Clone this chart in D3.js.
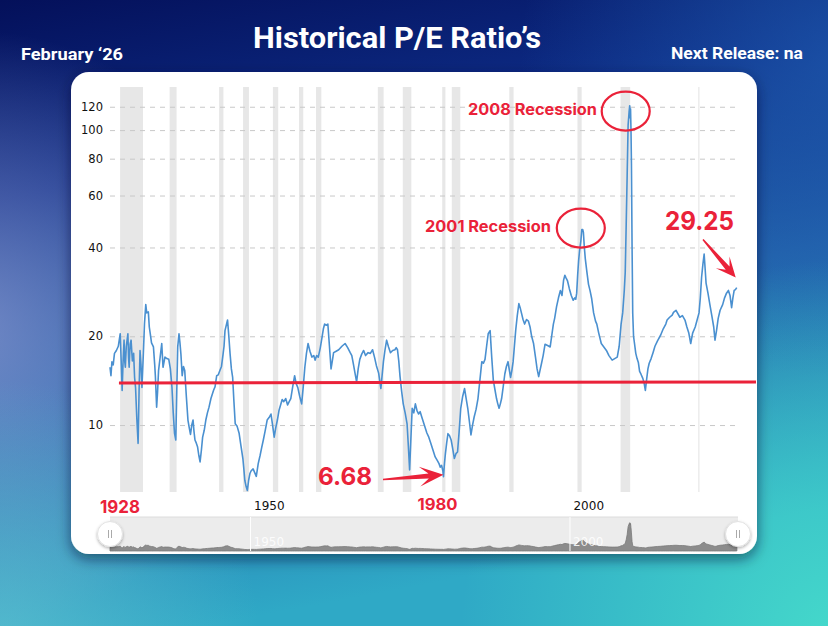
<!DOCTYPE html>
<html>
<head>
<meta charset="utf-8">
<script src="https://cdn.jsdelivr.net/npm/d3@7"></script>
<style>
  html, body { margin: 0; padding: 0; background: #0b1c6a; }
  svg { display: block; }
</style>
</head>
<body>
<svg id="chart"></svg>
<script>
// S&P 500 P/E ratio (year, ratio)
const peSeries = [
  [1928.0,15.7],[1928.15,14.7],[1928.3,16.4],[1928.5,16.0],[1928.7,17.5],[1929.0,17.9],[1929.3,18.5],[1929.6,20.4],
  [1929.75,16.5],[1929.9,13.1],[1930.05,16.5],[1930.2,19.4],[1930.3,16.5],[1930.4,15.7],[1930.55,18.5],[1930.8,20.4],
  [1930.9,17],[1931.0,15.7],[1931.15,18.8],[1931.3,19.4],[1931.5,16.5],[1931.7,17.5],[1931.85,14.5],[1932.0,13.4],
  [1932.2,10.5],[1932.4,8.67],[1932.55,13],[1932.7,17.9],[1932.85,16],[1933.0,13.4],[1933.2,17],[1933.4,22.1],
  [1933.6,25.6],[1933.75,24],[1934.0,24.2],[1934.15,21.5],[1934.3,20.4],[1934.5,19],[1934.8,18.4],[1935.0,16],
  [1935.1,14.7],[1935.3,11.5],[1935.45,13],[1935.6,15.3],[1935.85,17],[1936.1,18.9],[1936.3,15.7],[1936.6,17.0],
  [1936.9,16.8],[1937.2,16.7],[1937.45,15.5],[1937.7,13.4],[1937.9,11],[1938.1,9.37],[1938.3,8.9],[1938.45,13],
  [1938.6,18.4],[1938.8,20.4],[1938.95,19],[1939.1,17.4],[1939.3,14.7],[1939.5,15.8],[1939.7,15.3],[1939.95,12.5],
  [1940.2,10.4],[1940.4,9.8],[1940.6,9.3],[1940.8,10],[1941.0,10.4],[1941.15,9.5],[1941.3,8.9],[1941.5,8.7],
  [1941.7,8.45],[1941.9,7.9],[1942.1,7.5],[1942.3,8.2],[1942.5,9.1],[1942.75,9.6],[1943.0,10.4],[1943.25,11],
  [1943.5,11.5],[1943.8,12.3],[1944.2,13.1],[1944.45,13.5],[1944.7,14.7],[1944.95,14.8],[1945.2,15.3],[1945.45,15.8],
  [1945.7,17.4],[1945.85,18.5],[1946.0,20.9],[1946.25,22],[1946.4,22.7],[1946.6,20],[1946.8,17.4],[1947.0,15.5],
  [1947.2,14.5],[1947.4,12],[1947.6,10.1],[1947.9,9.9],[1948.2,9.4],[1948.5,8.5],[1948.8,7.7],[1948.95,7.1],
  [1949.1,6.5],[1949.3,6.2],[1949.5,6.0],[1949.7,6.5],[1949.9,6.85],[1950.1,7.0],[1950.4,7.1],[1950.65,6.9],
  [1950.9,6.7],[1951.2,7.4],[1951.5,7.9],[1951.75,8.4],[1952.0,8.9],[1952.3,9.6],[1952.6,10.4],[1952.9,10.6],
  [1953.2,10.9],[1953.45,10],[1953.7,9.1],[1953.95,9.8],[1954.2,10.4],[1954.45,11.2],[1954.7,11.7],[1954.95,12.2],
  [1955.2,12.0],[1955.5,12.3],[1955.8,11.7],[1956.05,12.0],[1956.3,12.3],[1956.6,13.5],[1956.9,14.7],[1957.15,13.8],
  [1957.4,13.4],[1957.7,12.5],[1958.0,11.8],[1958.25,13.5],[1958.5,15.7],[1958.75,17.5],[1959.0,18.9],[1959.3,17.8],
  [1959.6,17.0],[1959.9,17.2],[1960.1,16.6],[1960.35,17.2],[1960.6,17.0],[1960.9,18.2],[1961.2,19.9],[1961.4,21.2],
  [1961.6,22.0],[1961.85,21.8],[1962.1,22.0],[1962.35,18.5],[1962.6,15.5],[1962.8,16.5],[1963.0,17.6],[1963.4,17.8],
  [1963.8,18.0],[1964.3,18.5],[1964.8,18.9],[1965.2,18.3],[1965.6,17.6],[1965.85,17.2],[1966.1,16.1],[1966.35,15.0],
  [1966.6,14.0],[1966.85,15.5],[1967.1,16.7],[1967.4,17.4],[1967.7,17.9],[1968.0,17.2],[1968.4,17.6],[1968.75,17.5],
  [1969.1,18.0],[1969.4,17.0],[1969.7,15.9],[1970.05,15.0],[1970.4,13.3],[1970.6,14.8],[1970.8,16.4],[1971.05,18.0],
  [1971.3,19.4],[1971.6,18.4],[1971.9,17.6],[1972.25,17.9],[1972.6,18.0],[1972.8,18.3],[1973.0,18.0],[1973.2,16.5],
  [1973.4,14.6],[1973.65,13],[1973.9,11.8],[1974.2,11],[1974.5,10.1],[1974.7,8.5],[1974.9,7.05],[1975.1,9],
  [1975.3,11.4],[1975.55,11],[1975.8,11.8],[1976.05,11.2],[1976.3,10.9],[1976.55,11.1],[1976.8,10.65],[1977.2,10],
  [1977.6,9.4],[1977.9,9.1],[1978.2,8.7],[1978.5,8.3],[1978.9,7.8],[1979.2,7.6],[1979.5,7.4],[1979.7,7.2],
  [1979.9,7.3],[1980.1,7.0],[1980.2,6.68],[1980.35,7.4],[1980.5,8.0],[1980.7,8.7],[1980.9,9.35],[1981.15,9.2],
  [1981.4,8.9],[1981.65,8.3],[1981.9,7.7],[1982.15,8.0],[1982.4,8.1],[1982.65,9.5],[1982.9,11.4],[1983.2,12.5],
  [1983.5,13.3],[1983.75,12.3],[1984.0,11.4],[1984.25,10.3],[1984.5,9.26],[1984.75,10],[1985.0,10.65],[1985.3,11.3],
  [1985.6,12.3],[1985.9,14.2],[1986.2,16.4],[1986.45,16.2],[1986.7,16.7],[1986.95,18.5],[1987.2,20.4],[1987.5,20.9],
  [1987.75,17],[1988.0,14.2],[1988.25,13.2],[1988.5,12.3],[1988.7,11.8],[1988.9,11.4],[1989.1,11.8],[1989.3,12.3],
  [1989.55,13.5],[1989.8,14.9],[1990.05,15.8],[1990.3,16.4],[1990.5,15.4],[1990.7,14.5],[1990.9,15.3],[1991.1,16.4],
  [1991.3,18.5],[1991.5,20.9],[1991.75,23.5],[1992.0,25.8],[1992.2,25.0],[1992.4,24],[1992.65,22.8],[1992.9,22.0],
  [1993.2,22.8],[1993.5,22.5],[1993.75,21.5],[1994.0,20],[1994.3,18.9],[1994.6,17],[1994.85,15.5],[1995.1,14.6],
  [1995.3,15.3],[1995.55,16.2],[1995.8,17.2],[1996.1,18.8],[1996.5,18.6],[1996.9,18.4],[1997.2,20.5],[1997.4,22.0],
  [1997.6,23],[1997.9,25.2],[1998.2,27],[1998.5,28.6],[1998.75,27.5],[1999.0,31],[1999.2,32.2],[1999.4,31.5],
  [1999.6,30.9],[1999.9,29],[2000.2,27.5],[2000.5,26.5],[2000.75,27],[2000.9,26.7],[2001.05,28],[2001.2,32.2],
  [2001.35,36],[2001.5,39.0],[2001.7,42],[2001.85,46.0],[2002.0,46],[2002.1,45],[2002.25,40],[2002.4,36.6],
  [2002.65,33],[2002.9,30],[2003.15,28.5],[2003.4,26.8],[2003.7,24],[2004.0,22.5],[2004.2,22.0],[2004.5,20.5],
  [2004.9,18.9],[2005.3,18.4],[2005.7,17.9],[2006.1,17.2],[2006.6,16.6],[2007.0,16.8],[2007.4,17.0],[2007.7,18.5],
  [2008.0,22],[2008.25,24],[2008.5,28.6],[2008.65,33],[2008.8,47.9],[2008.95,70],[2009.1,104],[2009.25,115],
  [2009.35,121],[2009.42,110],[2009.48,118],[2009.55,100],[2009.62,77],[2009.72,40],[2009.82,24],[2009.95,20],
  [2010.1,18.9],[2010.3,17.5],[2010.5,16.8],[2010.7,16.3],[2010.9,15.2],[2011.1,14.9],[2011.4,14.4],[2011.6,13.9],
  [2011.8,13.1],[2012.0,14.3],[2012.2,15.5],[2012.4,16.2],[2012.7,16.8],[2013.0,17.6],[2013.3,18.5],[2013.7,19.3],
  [2014.2,20.2],[2014.6,21.2],[2015.0,22.0],[2015.2,22.7],[2015.6,23.2],[2016.0,23.6],[2016.2,24.1],[2016.6,24.5],
  [2017.2,23.2],[2017.6,23.5],[2018.0,22.7],[2018.3,21.5],[2018.6,20.5],[2018.9,18.9],[2019.2,20.5],[2019.6,21.5],
  [2019.9,22.7],[2020.2,24],[2020.4,27],[2020.6,31.7],[2020.8,35],[2021.0,38],[2021.15,34],[2021.3,30.3],
  [2021.6,28],[2021.9,25.6],[2022.2,23.5],[2022.5,21.5],[2022.7,19.4],[2022.95,21],[2023.2,23],[2023.5,24.5],
  [2023.9,25.6],[2024.2,27],[2024.5,28],[2024.8,28.6],[2025.05,27.5],[2025.3,25],[2025.5,27],[2025.7,28.6],
  [2025.9,28.8],[2026.1,29.25]
];

// NBER recessions (start, end) as decimal years
const recessions = [
  [1929.58,1933.17],[1937.33,1938.42],[1945.08,1945.75],[1948.83,1949.75],[1953.5,1954.33],
  [1957.58,1958.25],[1960.25,1961.08],[1969.92,1970.83],[1973.83,1975.17],[1980.0,1980.5],
  [1981.5,1982.83],[1990.5,1991.17],[2001.17,2001.83],[2007.92,2009.42],[2020.08,2020.25]
];

const yTicks = [10, 20, 40, 60, 80, 100, 120];
const xTicks = [1950, 2000];
const meanPE = 13.9;
const startYear = 1928, endYear = 2026.3;

const W = 828, H = 626;
const red = "#ea2239";

const svg = d3.select("#chart").attr("width", W).attr("height", H);
const defs = svg.append("defs");

// ---- background
const bg = defs.append("linearGradient").attr("id", "bgLin").attr("x1", 0).attr("y1", 0).attr("x2", 0.25).attr("y2", 1);
[["0%","#04105a"],["30%","#0d2c86"],["60%","#2364ac"],["100%","#2fa9c6"]].forEach(s =>
  bg.append("stop").attr("offset", s[0]).attr("stop-color", s[1]));

function radial(id, cx, cy, r, color, op) {
  const g = defs.append("radialGradient").attr("id", id)
    .attr("gradientUnits", "userSpaceOnUse").attr("cx", cx).attr("cy", cy).attr("r", r);
  g.append("stop").attr("offset", "0%").attr("stop-color", color).attr("stop-opacity", op);
  g.append("stop").attr("offset", "100%").attr("stop-color", color).attr("stop-opacity", 0);
}
radial("glowLeft", -30, 330, 300, "#8d9ad2", 0.75);
radial("glowBR", 840, 640, 380, "#46dccb", 0.95);
radial("glowBL", 0, 640, 260, "#62c4d2", 0.7);
radial("glowTR", 840, 60, 320, "#1f5cb0", 0.7);

svg.append("rect").attr("width", W).attr("height", H).attr("fill", "url(#bgLin)");
["glowTR", "glowLeft", "glowBL", "glowBR"].forEach(id =>
  svg.append("rect").attr("width", W).attr("height", H).attr("fill", `url(#${id})`));

// ---- header
svg.append("text").text("Historical P/E Ratio\u2019s")
  .attr("x", 397).attr("y", 48).attr("text-anchor", "middle")
  .attr("textLength", 288).attr("lengthAdjust", "spacingAndGlyphs")
  .style("font-family", "Roboto, sans-serif").style("font-weight", 700).style("font-size", "29px")
  .attr("fill", "#fff");
svg.append("text").text("February \u201826")
  .attr("x", 21).attr("y", 60).attr("textLength", 102).attr("lengthAdjust", "spacingAndGlyphs")
  .style("font-family", "Roboto, sans-serif").style("font-weight", 700).style("font-size", "17px")
  .attr("fill", "#fff");
svg.append("text").text("Next Release: na")
  .attr("x", 803).attr("y", 59).attr("text-anchor", "end")
  .attr("textLength", 132).attr("lengthAdjust", "spacingAndGlyphs")
  .style("font-family", "Roboto, sans-serif").style("font-weight", 700).style("font-size", "17px")
  .attr("fill", "#fff");

// ---- card
const shadow = defs.append("filter").attr("id", "cardShadow")
  .attr("x", "-10%").attr("y", "-10%").attr("width", "120%").attr("height", "125%");
shadow.append("feDropShadow").attr("dx", 0).attr("dy", 5).attr("stdDeviation", 7)
  .attr("flood-color", "#001030").attr("flood-opacity", 0.55);
svg.append("rect").attr("x", 71).attr("y", 72).attr("width", 686).attr("height", 482)
  .attr("rx", 18).attr("fill", "#fff").attr("filter", "url(#cardShadow)");

// ---- scales
const x = d3.scaleLinear().domain([startYear, endYear]).range([110, 738]);
const y = d3.scaleLog().domain([5.93, 140]).range([492, 87]);

// recession bars
svg.append("g").selectAll("rect").data(recessions).join("rect")
  .attr("x", d => x(d[0])).attr("width", d => Math.max(1.2, x(d[1]) - x(d[0])))
  .attr("y", y.range()[1]).attr("height", y.range()[0] - y.range()[1])
  .attr("fill", "#e7e7e7");

// y axis
const yAxis = svg.append("g").attr("transform", "translate(110,0)")
  .call(d3.axisLeft(y).tickValues(yTicks).tickFormat(d3.format("d")).tickSize(-630).tickPadding(7));
yAxis.select(".domain").remove();
yAxis.selectAll(".tick line").attr("stroke", "#c8c8c8").attr("stroke-dasharray", "5,5");
yAxis.selectAll(".tick text").attr("fill", "#111")
  .style("font-family", "'DejaVu Sans', Verdana, sans-serif").style("font-size", "11.5px");

// x axis
const xAxis = svg.append("g").attr("transform", "translate(0,510)")
  .call(d3.axisBottom(x).tickValues(xTicks).tickFormat(d3.format("d")).tickSize(0).tickPadding(0));
xAxis.select(".domain").remove();
xAxis.selectAll(".tick text").attr("fill", "#111").attr("text-anchor", "start")
  .attr("x", 3).attr("dy", 0)
  .style("font-family", "'DejaVu Sans', Verdana, sans-serif").style("font-size", "12px");

// P/E line
const line = d3.line().x(d => x(d[0])).y(d => y(d[1]));
svg.append("path").datum(peSeries).attr("d", line)
  .attr("fill", "none").attr("stroke", "#4a90d0").attr("stroke-width", 1.6)
  .attr("stroke-linejoin", "round");

// ---- navigator
const navTop = 517, navBottom = 551;
const yNav = d3.scaleLinear().domain([0, 128]).range([navBottom, navTop + 4]);
svg.append("rect").attr("x", x.range()[0]).attr("y", navTop)
  .attr("width", x.range()[1] - x.range()[0]).attr("height", navBottom - navTop)
  .attr("fill", "#ececec");
svg.append("line").attr("x1", x.range()[0]).attr("x2", x.range()[1])
  .attr("y1", navTop).attr("y2", navTop).attr("stroke", "#dcdcdc");
const area = d3.area().x(d => x(d[0])).y0(navBottom).y1(d => yNav(d[1]));
svg.append("path").datum(peSeries).attr("d", area)
  .attr("fill", "#8c8c8c").attr("stroke", "#7a7a7a").attr("stroke-width", 0.8);
xTicks.forEach(t => {
  svg.append("line").attr("x1", x(t)).attr("x2", x(t)).attr("y1", navTop).attr("y2", navBottom)
    .attr("stroke", "#fff").attr("stroke-width", 1);
  svg.append("text").text(t).attr("x", x(t) + 3).attr("y", 546)
    .attr("fill", "#fff").attr("fill-opacity", 0.85)
    .style("font-family", "'DejaVu Sans', Verdana, sans-serif").style("font-size", "12px");
});
const hShadow = defs.append("filter").attr("id", "handleShadow")
  .attr("x", "-50%").attr("y", "-50%").attr("width", "200%").attr("height", "200%");
hShadow.append("feDropShadow").attr("dx", 0).attr("dy", 1.5).attr("stdDeviation", 1.8)
  .attr("flood-color", "#000").attr("flood-opacity", 0.3);
[x.range()[0], x.range()[1]].forEach(cx => {
  svg.append("circle").attr("cx", cx).attr("cy", 534).attr("r", 12.5)
    .attr("fill", "#fff").attr("stroke", "#e2e2e2").attr("filter", "url(#handleShadow)");
  [-1.5, 1.5].forEach(o => svg.append("line")
    .attr("x1", cx + o).attr("x2", cx + o).attr("y1", 530).attr("y2", 538)
    .attr("stroke", "#aaa").attr("stroke-width", 1));
});

// ---- annotations
const annoFont = "Inter, 'Noto Sans', sans-serif";

// mean line
svg.append("line").attr("x1", x(1929.4)).attr("x2", 756)
  .attr("y1", y(meanPE)).attr("y2", y(meanPE) - 1)
  .attr("stroke", red).attr("stroke-width", 3);

function label(txt, px, py, size, len, anchor) {
  svg.append("text").text(txt).attr("x", px).attr("y", py)
    .attr("text-anchor", anchor || "start")
    .attr("textLength", len).attr("lengthAdjust", "spacingAndGlyphs")
    .style("font-family", annoFont).style("font-weight", 700).style("font-size", size + "px")
    .attr("fill", red);
}

function taperArrow(x0, y0, x1, y1, tailW, neckW, headLen, headW) {
  const len = Math.hypot(x1 - x0, y1 - y0);
  const ux = (x1 - x0) / len, uy = (y1 - y0) / len;
  const nx = -uy, ny = ux;
  const neckD = headLen * 0.62;
  const pts = [
    [x0 + nx * tailW / 2, y0 + ny * tailW / 2],
    [x1 - ux * neckD + nx * neckW / 2, y1 - uy * neckD + ny * neckW / 2],
    [x1 - ux * headLen + nx * headW, y1 - uy * headLen + ny * headW],
    [x1, y1],
    [x1 - ux * headLen - nx * headW, y1 - uy * headLen - ny * headW],
    [x1 - ux * neckD - nx * neckW / 2, y1 - uy * neckD - ny * neckW / 2],
    [x0 - nx * tailW / 2, y0 - ny * tailW / 2]
  ];
  svg.append("path").attr("d", "M" + pts.map(p => p.join(",")).join("L") + "Z").attr("fill", red);
}

// 1928 / 1980 year flags
label("1928", x(startYear) - 10, 512.5, 18, 40);
label("1980", x(1980.2) - 26, 509.5, 15.5, 40);

// 6.68 low
label("6.68", 318, 485, 24, 54);
taperArrow(383, 479.5, x(1980.2), y(6.68) - 2, 1.5, 5, 24, 10);

// 29.25 latest
label("29.25", 665, 230, 26, 69);
const last = peSeries[peSeries.length - 1];
taperArrow(703, 239.5, x(last[0]) - 1, y(last[1]) - 10, 1.5, 5, 20, 9);

// recession circles
function ring(year, val, dx, dy) {
  svg.append("ellipse").attr("cx", x(year) + dx).attr("cy", y(val) + dy)
    .attr("rx", 24).attr("ry", 19.5)
    .attr("fill", "none").attr("stroke", red).attr("stroke-width", 2.2);
}
ring(2001.85, 46, -1, -1.5);
ring(2009.35, 121, -4, 5.5);
label("2001 Recession", 425, 231.5, 15.5, 126);
label("2008 Recession", 468, 115, 15.5, 129);
</script>
</body>
</html>
